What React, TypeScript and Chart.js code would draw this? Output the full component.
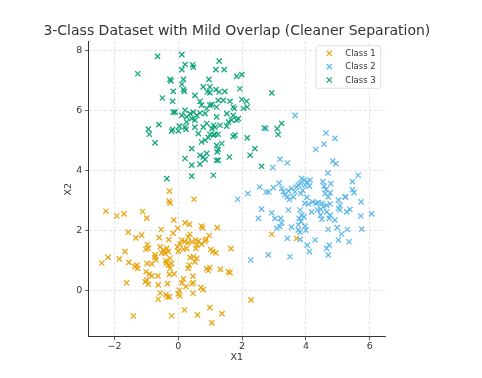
import React, { useEffect, useRef } from 'react';
import { Chart, registerables } from 'chart.js';

Chart.register(...registerables);

const titleText = '3-Class Dataset with Mild Overlap (Cleaner Separation)';
const classLabels = ['Class 1', 'Class 2', 'Class 3'];
const classColors = ['rgba(230,159,0,0.92)', 'rgba(86,180,233,0.92)', 'rgba(0,158,115,0.92)'];
const xAxisLabel = 'X1';
const yAxisLabel = 'X2';
const xTicks = [-2, 0, 2, 4, 6];
const yTicks = [0, 2, 4, 6, 8];

const class1X = [-0.28,-0.29,-0.26,0.49,-2.27,-1.93,-1.70,-1.12,-0.99,-1.57,
-1.15,-1.33,-0.14,0.21,0.35,-0.54,-0.02,-0.16,0.73,0.76,
1.22,-0.60,-0.30,0.36,0.31,0.97,0.11,0.21,0.05,0.31,
0.42,0.55,0.63,0.84,0.73,0.87,-0.97,-0.94,-1.02,-0.57,
-0.47,-0.36,-0.31,-0.42,-0.52,-0.03,0.00,0.16,0.26,0.55,
0.58,1.02,1.08,1.18,1.65,-1.67,-2.20,-1.85,-0.73,-0.26,
0.37,0.47,0.58,-2.40,-1.55,-1.30,-1.28,-1.36,-0.98,-0.83,
-0.70,-0.73,-0.39,-0.38,-0.31,-0.21,-0.26,0.34,0.31,0.52,
0.94,0.89,0.99,1.32,1.57,1.62,-1.01,-0.91,-0.83,-0.64,
-0.28,-0.13,-0.99,-1.04,-0.94,-1.62,-0.63,-0.34,0.16,0.11,
0.46,0.47,0.42,0.71,0.78,0.24,0.03,0.00,0.46,-0.57,
-0.39,-0.35,-0.28,-0.63,0.05,-1.41,-0.21,0.19,0.60,0.99,
1.37,1.05,2.28,2.93,3.71];
const class1Y = [3.31,2.98,2.91,3.04,2.64,2.48,2.55,2.63,2.41,1.94,
1.84,1.75,2.34,2.25,2.20,2.03,2.07,1.91,2.14,2.08,
2.09,1.76,1.69,1.87,1.78,1.83,1.68,1.62,1.54,1.59,
1.62,1.68,1.64,1.64,1.54,1.70,1.53,1.40,1.37,1.45,
1.34,1.40,1.29,1.23,1.25,1.45,1.30,1.37,1.40,1.40,
1.51,1.36,1.29,1.25,1.39,1.29,1.10,1.05,1.10,1.07,
1.10,1.12,1.07,0.91,0.93,0.84,0.73,0.79,0.90,0.88,
1.01,1.18,0.98,0.90,0.84,0.90,0.73,0.84,0.73,0.95,
0.66,0.72,0.76,0.70,0.62,0.59,0.62,0.54,0.48,0.48,
0.53,0.55,0.34,0.28,0.20,0.25,0.18,0.22,0.38,0.24,
0.47,0.25,0.21,0.09,0.02,0.12,0.00,-0.12,-0.10,-0.09,
-0.14,-0.21,-0.22,-0.30,-0.19,-0.86,-0.85,-0.66,-0.82,-0.58,
-0.78,-1.09,-0.32,1.87,1.73];

const class2X = [3.66,4.63,4.91,4.57,4.31,3.19,3.42,2.96,4.84,4.94,
4.69,5.64,5.46,5.46,5.51,5.24,5.73,6.06,5.72,5.75,
1.86,2.18,2.55,2.75,2.84,2.98,3.16,3.29,3.24,3.34,
3.45,3.48,3.42,3.61,3.66,3.55,3.71,3.76,3.82,3.87,
3.94,4.04,4.13,3.97,4.11,3.90,3.84,4.03,4.53,4.57,
4.78,4.63,4.76,4.70,4.60,3.97,4.08,4.21,4.32,4.39,
4.50,4.55,4.65,4.76,4.18,4.36,4.46,3.82,3.87,3.79,
3.94,3.84,4.46,4.50,4.65,4.76,4.73,4.91,5.02,5.07,
5.02,5.23,5.07,5.28,5.38,3.45,3.76,3.55,2.61,2.93,
3.03,3.21,3.24,3.08,3.19,2.51,3.76,3.82,3.97,4.00,
3.42,3.82,4.29,4.04,4.11,4.70,4.98,5.30,4.73,4.65,
4.70,5.02,5.35,5.12,2.27,2.82,3.50,2.75];
const class2Y = [5.84,5.25,5.07,4.88,4.70,4.38,4.25,4.10,4.31,4.23,
3.92,3.84,3.63,3.36,3.26,3.12,2.95,2.55,2.48,2.04,
3.04,3.23,3.45,3.28,3.28,3.43,3.58,3.29,3.40,3.18,
3.32,3.03,3.12,3.12,3.29,3.40,3.45,3.51,3.57,3.73,
3.68,3.62,3.68,3.51,3.48,3.34,3.23,3.10,3.63,3.48,
3.56,3.37,3.25,3.12,3.23,2.90,2.88,2.95,2.90,2.93,
2.90,2.79,2.84,2.88,2.62,2.68,2.70,2.68,2.51,2.40,
2.45,2.29,2.51,2.37,2.62,2.51,2.40,2.34,3.01,2.84,
2.73,3.12,2.68,2.62,2.70,2.68,2.18,2.11,2.71,2.59,
2.40,2.40,2.25,2.07,2.12,2.40,2.01,1.94,2.14,2.01,
1.73,1.70,1.68,1.51,1.29,2.03,2.09,2.03,1.51,1.40,
1.18,1.68,1.62,1.88,1.01,1.18,1.12,5.40];

const class3X = [-0.65,0.11,-1.27,0.21,0.45,0.47,0.11,1.28,1.18,1.44,
-0.26,-0.23,0.16,0.11,0.16,0.19,-0.16,0.96,0.78,0.99,
0.91,0.99,1.18,1.28,1.46,1.83,1.99,1.93,0.52,-0.50,
-0.18,0.68,0.73,1.05,1.25,1.41,1.62,0.89,1.20,1.72,
1.76,1.99,2.14,2.04,2.16,2.93,-0.94,-0.91,-0.61,-0.73,
-0.21,0.00,0.03,-0.16,0.21,0.42,0.42,0.68,0.68,0.78,
0.84,0.52,0.63,0.84,0.94,0.99,1.10,1.15,1.25,1.20,
1.25,1.36,1.25,1.60,1.78,1.31,1.52,1.57,1.67,1.83,
2.16,2.40,2.25,2.61,2.70,3.10,3.24,3.13,1.72,-0.36,
0.42,1.10,-0.10,0.11,0.21,0.26,0.37,0.47,0.58,0.68,
0.26,0.42,0.52,0.84,0.99,0.78,0.89,1.05,0.21,1.20,
0.89,1.22,1.20,-0.18,1.10,0.73,1.15,0.24,1.52,1.72,1.88];
const class3Y = [7.81,7.87,7.23,7.54,7.53,7.45,7.37,7.65,7.37,7.37,
7.04,6.99,7.04,6.88,6.70,6.64,6.64,7.04,6.79,6.79,
6.62,6.60,6.70,6.62,6.64,7.14,7.20,6.73,6.51,6.42,
6.31,6.31,6.18,6.20,6.34,6.34,6.31,6.07,6.12,6.12,
6.07,6.37,6.31,6.07,6.12,6.59,5.38,5.21,5.53,4.92,
5.31,5.32,5.48,5.95,4.40,4.73,4.18,4.21,4.51,4.45,
4.37,5.45,5.23,5.01,5.10,5.21,5.51,5.21,5.21,4.84,
4.70,4.90,4.34,4.45,5.18,5.51,5.48,5.62,5.68,5.68,
5.09,4.73,4.51,4.14,5.42,5.40,5.57,5.20,5.14,3.73,
3.81,3.84,5.95,5.84,6.01,5.79,5.90,5.95,5.84,5.92,
5.62,5.73,5.68,5.90,6.18,5.45,5.57,5.40,5.45,5.79,
4.57,4.62,4.34,5.37,5.18,4.95,5.45,5.37,5.90,5.84,5.73];

const FONT = "'DejaVu Sans', 'Liberation Sans', sans-serif";
const TEXT = '#333333';

function toPoints(xs: number[], ys: number[]) {
  return xs.map((x, i) => ({ x, y: ys[i] }));
}

export default function App() {
  const ref = useRef<HTMLCanvasElement>(null);

  useEffect(() => {
    document.body.style.margin = '0';
    const canvas = ref.current;
    if (!canvas) return;

    const titlePlugin = {
      id: 'mplTitle',
      afterDraw(chart: any) {
        const { ctx, chartArea } = chart;
        ctx.save();
        ctx.font = `14px ${FONT}`;
        ctx.fillStyle = TEXT;
        ctx.textAlign = 'center';
        ctx.textBaseline = 'alphabetic';
        ctx.fillText(titleText, (chartArea.left + chartArea.right) / 2, 35);
        ctx.restore();
      },
    };

    const legendPlugin = {
      id: 'mplLegend',
      afterDatasetsDraw(chart: any) {
        const { ctx, chartArea } = chart;
        const x0 = chartArea.right - 69;
        const y0 = chartArea.top + 4;
        const w = 64.7;
        const h = 42.6;
        ctx.save();
        ctx.beginPath();
        const r = 2.5;
        ctx.moveTo(x0 + r, y0);
        ctx.lineTo(x0 + w - r, y0);
        ctx.arcTo(x0 + w, y0, x0 + w, y0 + r, r);
        ctx.lineTo(x0 + w, y0 + h - r);
        ctx.arcTo(x0 + w, y0 + h, x0 + w - r, y0 + h, r);
        ctx.lineTo(x0 + r, y0 + h);
        ctx.arcTo(x0, y0 + h, x0, y0 + h - r, r);
        ctx.lineTo(x0, y0 + r);
        ctx.arcTo(x0, y0, x0 + r, y0, r);
        ctx.closePath();
        ctx.fillStyle = 'rgba(255,255,255,0.85)';
        ctx.fill();
        ctx.strokeStyle = '#d6d6d6';
        ctx.lineWidth = 0.8;
        ctx.stroke();
        chart.data.datasets.forEach((ds: any, i: number) => {
          const cy = y0 + 7.6 + i * 13.35;
          const cx = x0 + 13.3;
          const s = 2.6;
          ctx.beginPath();
          ctx.moveTo(cx - s, cy - s);
          ctx.lineTo(cx + s, cy + s);
          ctx.moveTo(cx - s, cy + s);
          ctx.lineTo(cx + s, cy - s);
          ctx.strokeStyle = ds.borderColor;
          ctx.lineWidth = 1.3;
          ctx.stroke();
          ctx.font = `8.5px ${FONT}`;
          ctx.fillStyle = TEXT;
          ctx.textAlign = 'left';
          ctx.textBaseline = 'middle';
          ctx.fillText(ds.label, x0 + 29.3, cy + 0.5);
        });
        ctx.restore();
      },
    };

    const seriesX = [class1X, class2X, class3X];
    const seriesY = [class1Y, class2Y, class3Y];

    const chart = new Chart(canvas, {
      type: 'scatter',
      data: {
        datasets: classLabels.map((label, i) => ({
          label,
          data: toPoints(seriesX[i], seriesY[i]),
          pointStyle: 'crossRot',
          pointRadius: 3.7,
          pointHoverRadius: 3.7,
          borderWidth: 1.3,
          borderColor: classColors[i],
          backgroundColor: classColors[i],
          order: 3 - i,
        })),
      },
      options: {
        animation: false,
        responsive: false,
        devicePixelRatio: 1,
        layout: { padding: { left: 0, right: 97, top: 41.7, bottom: 0 } },
        plugins: {
          legend: { display: false },
          tooltip: { enabled: false },
          title: { display: false },
        },
        scales: {
          x: {
            type: 'linear',
            min: -2.81,
            max: 6.48,
            afterBuildTicks: (s: any) => {
              s.ticks = xTicks.map((v) => ({ value: v }));
            },
            afterFit: (s: any) => {
              s.height = 41.3;
            },
            grid: {
              color: 'rgba(0,0,0,0.15)',
              lineWidth: 0.8,
              drawTicks: true,
              tickLength: 3.5,
              tickColor: '#333',
              tickWidth: 0.8,
              tickBorderDash: [],
            },
            border: { display: true, color: '#333', width: 1, dash: [3, 2] },
            ticks: {
              color: TEXT,
              font: { family: FONT, size: 9.5 },
              padding: 1,
              callback: (v: any) => String(v).replace('-', '\u2212'),
            },
            title: {
              display: true,
              text: xAxisLabel,
              color: TEXT,
              font: { family: FONT, size: 9.5 },
              padding: { top: 0, bottom: 14.3 },
            },
          },
          y: {
            type: 'linear',
            min: -1.55,
            max: 8.3,
            afterBuildTicks: (s: any) => {
              s.ticks = yTicks.map((v) => ({ value: v }));
            },
            afterFit: (s: any) => {
              s.width = 88.7;
            },
            grid: {
              color: 'rgba(0,0,0,0.15)',
              lineWidth: 0.8,
              drawTicks: true,
              tickLength: 3.5,
              tickColor: '#333',
              tickWidth: 0.8,
              tickBorderDash: [],
            },
            border: { display: true, color: '#333', width: 1, dash: [3, 2] },
            ticks: {
              color: TEXT,
              font: { family: FONT, size: 9.5 },
              padding: 3,
              callback: (v: any) => String(v).replace('-', '\u2212'),
            },
            title: {
              display: true,
              text: yAxisLabel,
              color: TEXT,
              font: { family: FONT, size: 9.5 },
              padding: { top: 63.1, bottom: 0 },
            },
          },
        },
      } as any,
      plugins: [titlePlugin, legendPlugin],
    });

    return () => {
      chart.destroy();
    };
  }, []);

  return (
    <div style={{ width: 482, height: 378 }}>
      <canvas ref={ref} width={482} height={378} style={{ display: 'block', width: 482, height: 378 }} />
    </div>
  );
}
